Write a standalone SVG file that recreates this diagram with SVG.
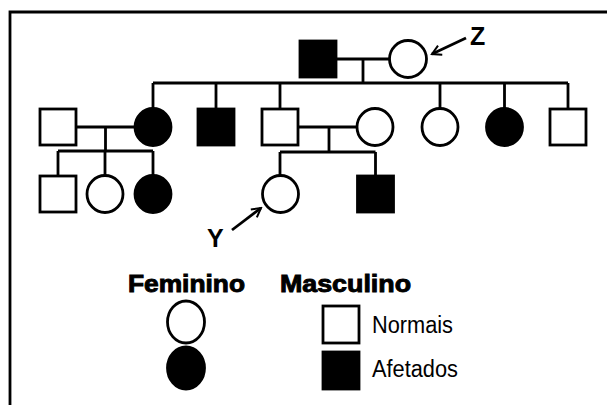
<svg xmlns="http://www.w3.org/2000/svg" width="607" height="405" viewBox="0 0 607 405">
<style>
.ln{stroke:#000;stroke-width:2.8;fill:none}
.n{fill:#fff;stroke:#000;stroke-width:2.8}
.a{fill:#000;stroke:#000;stroke-width:2.8}
.lbl{font-family:"Liberation Sans",Arial,sans-serif;font-weight:bold;font-size:25px;fill:#000}
.hd{font-family:"Liberation Sans",Arial,sans-serif;font-weight:bold;font-size:23px;fill:#000;stroke:#000;stroke-width:0.9}
.tx{font-family:"Liberation Sans",Arial,sans-serif;font-size:23px;fill:#000}
</style>
<defs>
<marker id="ah" markerWidth="12" markerHeight="12" refX="10" refY="6" orient="auto" markerUnits="userSpaceOnUse">
<path d="M1,1 L10,6 L1,11" fill="none" stroke="#000" stroke-width="2"/>
</marker>
</defs>
<rect x="0" y="0" width="607" height="405" fill="#fff"/>
<g id="frame">
<path class="ln" d="M10,405 V12 H607" stroke-width="3"/>
</g>
<g id="connectors">
<path class="ln" d="M336,59 H389.5 M363,59 V83 M153,83 H568"/>
<path class="ln" d="M153,83 V109 M216,83 V109 M280,83 V109 M440,83 V109 M504.5,83 V109 M568,83 V109"/>
<path class="ln" d="M76,127 H135 M105.5,127 V151 M58,151 H153 M58,151 V176 M105,151 V176 M153,151 V176"/>
<path class="ln" d="M298,127 H356.5 M329,127 V152 M280,152 H375.5 M280,152 V176 M375.5,152 V176"/>
<path class="ln" d="M466,38 L432,54" stroke-width="2" marker-end="url(#ah)"/>
<path class="ln" d="M232,230 L261,208" stroke-width="2" marker-end="url(#ah)"/>
</g>
<g id="g1-father"><rect class="a" x="300" y="41" width="36" height="36"/></g>
<g id="g1-mother-Z"><ellipse class="n" cx="408" cy="59" rx="18.5" ry="18.5"/></g>
<g id="label-Z"><text class="lbl" x="470" y="45">Z</text></g>
<g id="g2-husband1"><rect class="n" x="40" y="109" width="36" height="36"/></g>
<g id="g2-daughter1"><ellipse class="a" cx="153" cy="127" rx="18" ry="18.5"/></g>
<g id="g2-son1"><rect class="a" x="198" y="109" width="36" height="36"/></g>
<g id="g2-son2"><rect class="n" x="262" y="109" width="36" height="36"/></g>
<g id="g2-wife2"><ellipse class="n" cx="375" cy="127" rx="18" ry="18.5"/></g>
<g id="g2-daughter2"><ellipse class="n" cx="440" cy="127" rx="18" ry="18.5"/></g>
<g id="g2-daughter3"><ellipse class="a" cx="504.5" cy="127" rx="18" ry="18.5"/></g>
<g id="g2-son3"><rect class="n" x="550" y="109" width="36" height="36"/></g>
<g id="g3-son1"><rect class="n" x="40" y="176" width="36" height="36"/></g>
<g id="g3-daughter1"><ellipse class="n" cx="105" cy="194" rx="18" ry="18.5"/></g>
<g id="g3-daughter2"><ellipse class="a" cx="153" cy="194" rx="18" ry="18.5"/></g>
<g id="g3-daughter-Y"><ellipse class="n" cx="280.5" cy="194" rx="18" ry="18.5"/></g>
<g id="g3-son2"><rect class="a" x="357.5" y="176" width="36" height="36"/></g>
<g id="label-Y"><text class="lbl" x="207" y="247">Y</text></g>
<g id="legend">
<text class="hd" x="128" y="292" textLength="117" lengthAdjust="spacingAndGlyphs">Feminino</text>
<text class="hd" x="280" y="292" textLength="131" lengthAdjust="spacingAndGlyphs">Masculino</text>
<ellipse class="n" cx="186" cy="322" rx="18.5" ry="21"/>
<ellipse class="a" cx="186" cy="368" rx="18.5" ry="21"/>
<rect class="n" x="323" y="306" width="36" height="37"/>
<rect class="a" x="323" y="352" width="36" height="37"/>
<text class="tx" x="372" y="333" textLength="81" lengthAdjust="spacingAndGlyphs">Normais</text>
<text class="tx" x="372" y="377" textLength="86" lengthAdjust="spacingAndGlyphs">Afetados</text>
</g>
</svg>
